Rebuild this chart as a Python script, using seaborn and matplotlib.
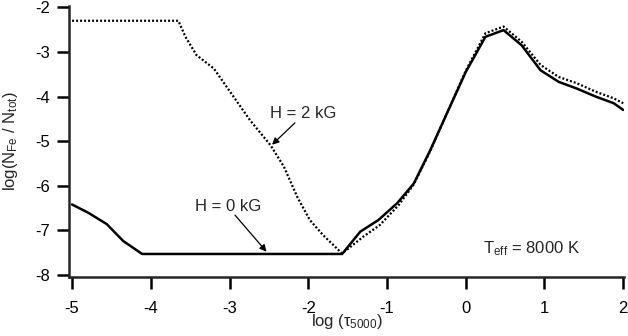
import matplotlib
matplotlib.use("Agg")
import matplotlib.pyplot as plt
import seaborn as sns
import pandas as pd

# H = 0 kG (solid)
x_h0 = [-5.0, -4.79, -4.56, -4.35, -4.11, -1.57, -1.34, -1.11, -0.87, -0.66,
        -0.45, -0.24, 0.0, 0.25, 0.48, 0.71, 0.95, 1.18, 1.41, 1.65, 1.88, 2.0]
y_h0 = [-6.42, -6.61, -6.86, -7.24, -7.53, -7.53, -7.03, -6.77, -6.39, -5.95,
        -5.20, -4.38, -3.45, -2.66, -2.51, -2.85, -3.41, -3.67, -3.82, -4.00, -4.15, -4.30]

# H = 2 kG (dotted)
x_h2 = [-5.0, -3.65, -3.56, -3.42, -3.20, -2.95, -2.74, -2.48, -2.31, -2.14,
        -1.98, -1.81, -1.57, -1.30, -1.09, -0.85, -0.66, -0.45, -0.24, 0.0,
        0.25, 0.48, 0.71, 0.95, 1.18, 1.41, 1.65, 1.88, 2.0]
y_h2 = [-2.30, -2.30, -2.66, -3.07, -3.37, -4.00, -4.53, -5.09, -5.57, -6.25,
        -6.77, -7.11, -7.52, -7.14, -6.88, -6.43, -5.97, -5.22, -4.38, -3.42,
        -2.58, -2.43, -2.77, -3.29, -3.56, -3.70, -3.89, -4.04, -4.15]

sns.set_style("ticks")
plt.rcParams['font.family'] = ['Liberation Sans', 'DejaVu Sans']
plt.rcParams['mathtext.fontset'] = 'custom'
plt.rcParams['mathtext.rm'] = 'Liberation Sans'
plt.rcParams['mathtext.it'] = 'Liberation Sans'

df0 = pd.DataFrame({"x": x_h0, "y": y_h0})
df2 = pd.DataFrame({"x": x_h2, "y": y_h2})

fig = plt.figure(figsize=(6.28, 3.36), dpi=100)
ax = fig.add_axes([0.110, 0.177, 0.884, 0.805])

sns.lineplot(data=df0, x="x", y="y", ax=ax, color="black", linewidth=1.8,
             sort=False, estimator=None)
sns.lineplot(data=df2, x="x", y="y", ax=ax, color="black", linewidth=1.6,
             sort=False, estimator=None)
ax.lines[-1].set_dashes((0.9, 0.9))

ax.set_xlim(-5.038, 2.013)
ax.set_ylim(-8.036, -1.97)
ax.set_xticks(range(-5, 3))
ax.set_yticks(range(-8, -1))
ax.set_xticklabels([str(v) for v in range(-5, 3)])
ax.set_yticklabels([str(v) for v in range(-8, -1)])

for side in ["top", "right"]:
    ax.spines[side].set_visible(False)
for side in ["left", "bottom"]:
    ax.spines[side].set_linewidth(1.8)
ax.tick_params(axis="both", direction="out", length=8.5, width=1.8,
               labelsize=12, colors="black")
ax.tick_params(axis="x", pad=9)
ax.tick_params(axis="y", pad=5)

ax.set_xlabel(r"log ($\tau_{\mathrm{5000}}$)", fontsize=12)
ax.set_ylabel(r"log(N$_{\mathrm{Fe}}$ / N$_{\mathrm{tot}}$)", fontsize=12)
ax.xaxis.set_label_coords(0.5, -0.13)
ax.yaxis.set_label_coords(-0.088, 0.5)

arrow = dict(arrowstyle="-|>", color="black", lw=0.9, mutation_scale=10,
             shrinkA=0, shrinkB=0)
ax.text(-2.06, -4.37, "H = 2 kG", fontsize=12, ha="center", va="center")
ax.annotate("", xy=(-2.46, -5.08), xytext=(-2.17, -4.59), arrowprops=arrow)
ax.text(-3.02, -6.47, "H = 0 kG", fontsize=12, ha="center", va="center")
ax.annotate("", xy=(-2.53, -7.48), xytext=(-2.93, -6.66), arrowprops=arrow)
ax.text(1.45, -7.42, r"T$_{\mathrm{eff}}$ = 8000 K", fontsize=12,
        ha="right", va="center")

fig.savefig("out.png", dpi=100)
